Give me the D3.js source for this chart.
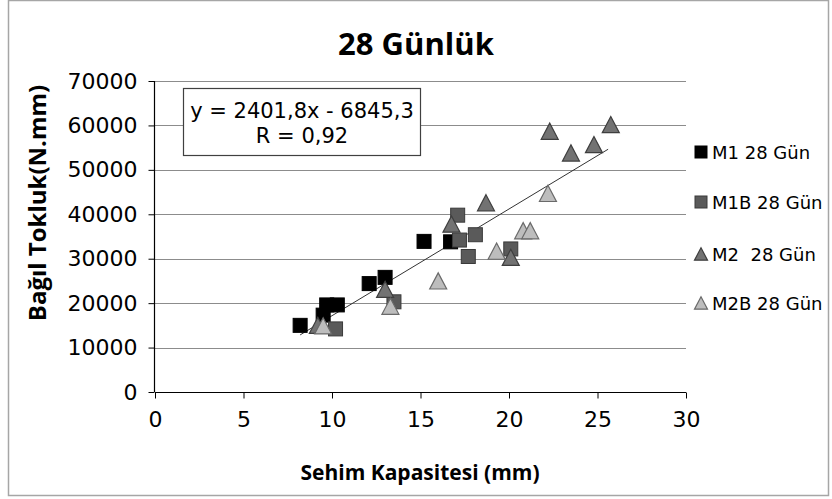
<!DOCTYPE html>
<html>
<head>
<meta charset="utf-8">
<script src="https://cdn.jsdelivr.net/npm/d3@7"></script>
<style>
  html, body { margin: 0; padding: 0; background: #fff; }
  svg { display: block; }
  text { font-family: "DejaVu Sans", "Noto Sans", sans-serif; }
</style>
</head>
<body>
<svg id="chart" width="832" height="499"></svg>
<script>
// Deflection capacity (mm) vs relative toughness (N.mm), 28-day specimens
const m1X  = [8.2, 9.5, 9.7, 10.3, 12.1, 13.0, 15.2, 16.7];
const m1Y  = [15000, 17300, 19600, 19600, 24400, 25800, 33900, 33800];
const m1bX = [10.2, 13.5, 17.1, 18.1, 17.2, 17.7, 20.1];
const m1bY = [14200, 20300, 39800, 35400, 34200, 30500, 32200];
const m2X  = [9.2, 13.0, 16.75, 18.7, 20.1, 22.3, 25.75, 24.8, 23.5];
const m2Y  = [15000, 23100, 37800, 42600, 30300, 58700, 60200, 55700, 53800];
const m2bX = [9.5, 13.3, 16.0, 19.3, 20.8, 21.2, 22.2];
const m2bY = [14900, 19300, 25000, 31700, 36300, 36300, 44700];

const xTicks = [0, 5, 10, 15, 20, 25, 30];
const yTicks = [0, 10000, 20000, 30000, 40000, 50000, 60000, 70000];

const seriesNames = ["M1 28 Gün", "M1B 28 Gün", "M2  28 Gün", "M2B 28 Gün"];
const slope = 2401.8, intercept = -6845.3;
const trendRange = [8.2, 25.6];
const eqLines = ["y = 2401,8x - 6845,3", "R = 0,92"];

const series = [
  { name: seriesNames[0], xs: m1X,  ys: m1Y,  shape: "square",   fill: "#000000", stroke: "#000000" },
  { name: seriesNames[1], xs: m1bX, ys: m1bY, shape: "square",   fill: "#5a5a5a", stroke: "#3a3a3a" },
  { name: seriesNames[2], xs: m2X,  ys: m2Y,  shape: "triangle", fill: "#727272", stroke: "#3e3e3e" },
  { name: seriesNames[3], xs: m2bX, ys: m2bY, shape: "triangle", fill: "#bdbdbd", stroke: "#6a6a6a" }
];

const svg = d3.select("#chart");

// outer frame
svg.append("rect")
  .attr("x", 8.5).attr("y", 0.5).attr("width", 820).attr("height", 495)
  .attr("fill", "#fff").attr("stroke", "#a6a6a6").attr("stroke-width", 1.5);

const plot = { left: 155, right: 686, top: 81, bottom: 392 };
const x = d3.scaleLinear().domain([0, 30]).range([plot.left, plot.right]);
const y = d3.scaleLinear().domain([0, 70000]).range([plot.bottom, plot.top]);

// horizontal gridlines
svg.append("g").selectAll("line")
  .data(yTicks.filter(d => d > 0))
  .join("line")
  .attr("x1", plot.left).attr("x2", plot.right)
  .attr("y1", d => Math.round(y(d)) + 0.5).attr("y2", d => Math.round(y(d)) + 0.5)
  .attr("stroke", "#8c8c8c").attr("stroke-width", 1);

// axes
const xAxis = svg.append("g")
  .attr("transform", `translate(0,${plot.bottom + 0.5})`)
  .call(d3.axisBottom(x).tickValues(xTicks).tickSize(6).tickPadding(13).tickFormat(d3.format("d")));
const yAxis = svg.append("g")
  .attr("transform", `translate(${plot.left - 0.5},0)`)
  .call(d3.axisLeft(y).tickValues(yTicks).tickSize(6).tickPadding(11).tickFormat(d => String(d)));

[xAxis, yAxis].forEach(g => {
  g.select(".domain").attr("stroke", "#000").attr("stroke-width", 1.2);
  g.selectAll(".tick line").attr("stroke", "#000");
  g.selectAll(".tick text").attr("font-size", 22).attr("fill", "#000")
    .style("font-family", "'DejaVu Sans', sans-serif");
});
xAxis.select(".domain").attr("d", `M${plot.left},0H${plot.right}`);
yAxis.select(".domain").attr("d", `M0,${plot.top}V${plot.bottom}`);

// trend line
svg.append("line")
  .attr("x1", x(trendRange[0])).attr("y1", y(slope * trendRange[0] + intercept))
  .attr("x2", x(trendRange[1])).attr("y2", y(slope * trendRange[1] + intercept))
  .attr("stroke", "#333").attr("stroke-width", 1);

const sq = 14, tri = 17;
function drawMarker(g, shape, cx, cy, size, fill, stroke) {
  if (shape === "square") {
    g.append("rect")
      .attr("x", cx - size / 2).attr("y", cy - size / 2)
      .attr("width", size).attr("height", size)
      .attr("fill", fill).attr("stroke", stroke).attr("stroke-width", 1);
  } else {
    const h = size * 0.95;
    g.append("path")
      .attr("d", `M${cx},${cy - h / 2}L${cx + size / 2},${cy + h / 2}L${cx - size / 2},${cy + h / 2}Z`)
      .attr("fill", fill).attr("stroke", stroke).attr("stroke-width", 1.2);
  }
}

// markers
const markers = svg.append("g");
series.forEach(s => {
  const g = markers.append("g");
  s.xs.forEach((xv, i) => {
    drawMarker(g, s.shape, x(xv), y(s.ys[i]), s.shape === "square" ? sq : tri, s.fill, s.stroke);
  });
});

// equation box
svg.append("rect")
  .attr("x", 183.5).attr("y", 88.5).attr("width", 237).attr("height", 67)
  .attr("fill", "#fff").attr("stroke", "#404040").attr("stroke-width", 1.2);
svg.append("g").selectAll("text")
  .data(eqLines)
  .join("text")
  .attr("x", 302).attr("y", (d, i) => 118 + i * 25)
  .attr("text-anchor", "middle")
  .attr("font-size", 21).attr("fill", "#000")
  .text(d => d);

// legend
const legendY = [152, 202, 254, 303];
const legend = svg.append("g");
series.forEach((s, i) => {
  const cy = legendY[i];
  drawMarker(legend, s.shape, 701, cy, s.shape === "square" ? 12 : 13, s.fill, s.stroke);
  legend.append("text")
    .attr("x", 712).attr("y", cy + 6.5)
    .attr("font-size", 18).attr("fill", "#000")
    .style("white-space", "pre")
    .text(s.name);
});

// title
svg.append("text")
  .attr("x", 416).attr("y", 55)
  .attr("text-anchor", "middle")
  .attr("font-size", 31).attr("font-weight", "bold")
  .style("font-family", "'Open Sans', sans-serif")
  .attr("fill", "#000")
  .text("28 Günlük");

// axis titles
svg.append("text")
  .attr("x", 420).attr("y", 480)
  .attr("text-anchor", "middle")
  .attr("font-size", 21).attr("font-weight", "bold")
  .style("font-family", "'Open Sans', sans-serif")
  .text("Sehim Kapasitesi (mm)");
svg.append("text")
  .attr("transform", "translate(46,203) rotate(-90)")
  .attr("text-anchor", "middle")
  .attr("font-size", 24).attr("font-weight", "bold")
  .style("font-family", "'Open Sans', sans-serif")
  .text("Bağıl Tokluk(N.mm)");
</script>
</body>
</html>
